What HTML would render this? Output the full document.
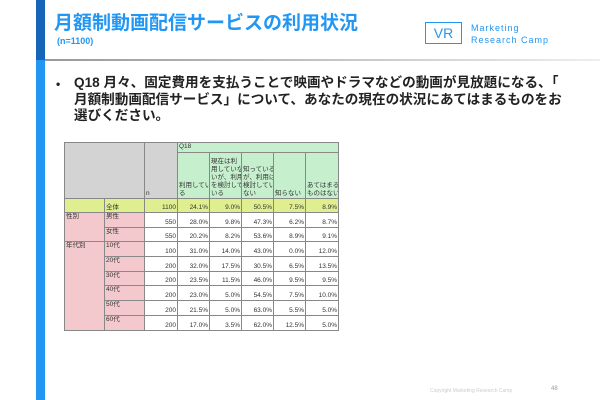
<!DOCTYPE html>
<html><head><meta charset="utf-8"><style>
body{margin:0;width:600px;height:400px;background:#fff;position:relative;overflow:hidden;font-family:"Liberation Sans","Noto Sans CJK JP",sans-serif}
.a{position:absolute}
table{border-collapse:collapse;font-size:6.5px;color:#333;table-layout:fixed;width:274px}
td{border:1px solid #888;padding:0 1px;box-sizing:border-box;text-align:right;vertical-align:bottom;white-space:nowrap;overflow:hidden;line-height:8px}
.g{background:#d3d3d3}.q{background:#c6efce;text-align:left}.y{background:#dfef8f}.p{background:#f3c9cd;text-align:left;vertical-align:top}
</style></head><body>
<div class="a" style="left:36px;top:0;width:9px;height:60px;background:#1565b8"></div>
<div class="a" style="left:36px;top:60px;width:9px;height:340px;background:#2196f3"></div>
<div class="a" style="left:45px;top:59px;width:555px;height:2px;background:linear-gradient(90deg,#999,#eee)"></div>
<div class="a" style="left:54px;top:8px;font-size:19px;font-weight:bold;color:#2196f3">月額制動画配信サービスの利用状況</div>
<div class="a" style="left:57px;top:36px;font-size:9px;font-weight:bold;color:#2196f3">(n=1100)</div>
<div class="a" style="left:425px;top:22px;width:35px;height:20px;border:1px solid #2196f3;font-size:14px;color:#2196f3;line-height:20px;text-align:center">VR</div>
<div class="a" style="left:471px;top:22px;font-size:9px;color:#2196f3;letter-spacing:1px;line-height:12px">Marketing<br>Research Camp</div>
<div class="a" style="left:56px;top:76px;font-size:12px;font-weight:bold;color:#222;line-height:16px">•</div>
<div class="a" style="left:74px;top:75px;font-size:13.6px;font-weight:bold;color:#222;line-height:16.5px;white-space:nowrap">Q18 月々、固定費用を支払うことで映画やドラマなどの動画が見放題になる、「<br>月額制動画配信サービス」について、あなたの現在の状況にあてはまるものをお<br>選びください。</div>
<table class="a" style="left:64px;top:142px">
<colgroup><col style="width:40px"><col style="width:40px"><col style="width:33px"><col style="width:32px"><col style="width:32px"><col style="width:32px"><col style="width:32px"><col style="width:33px"></colgroup>
<tr style="height:10px"><td class="g" colspan="2" rowspan="2"></td><td class="g" rowspan="2" style="text-align:left">n</td><td class="q" colspan="5" style="vertical-align:top">Q18</td></tr>
<tr style="height:46px"><td class="q">利用してい<br>る</td><td class="q">現在は利<br>用していな<br>いが、利用<br>を検討して<br>いる</td><td class="q">知っている<br>が、利用は<br>検討してい<br>ない</td><td class="q">知らない</td><td class="q">あてはまる<br>ものはない</td></tr>
<tr style="height:14px"><td class="y"></td><td class="y" style="text-align:left">全体</td><td class="y">1100</td><td class="y">24.1%</td><td class="y">9.0%</td><td class="y">50.5%</td><td class="y">7.5%</td><td class="y">8.9%</td></tr>
<tr style="height:15px"><td class="p" rowspan="2">性別</td><td class="p">男性</td><td>550</td><td>28.0%</td><td>9.8%</td><td>47.3%</td><td>6.2%</td><td>8.7%</td></tr>
<tr style="height:14px"><td class="p">女性</td><td>550</td><td>20.2%</td><td>8.2%</td><td>53.6%</td><td>8.9%</td><td>9.1%</td></tr>
<tr style="height:15px"><td class="p" rowspan="6">年代別</td><td class="p">10代</td><td>100</td><td>31.0%</td><td>14.0%</td><td>43.0%</td><td>0.0%</td><td>12.0%</td></tr>
<tr style="height:15px"><td class="p">20代</td><td>200</td><td>32.0%</td><td>17.5%</td><td>30.5%</td><td>6.5%</td><td>13.5%</td></tr>
<tr style="height:14px"><td class="p">30代</td><td>200</td><td>23.5%</td><td>11.5%</td><td>46.0%</td><td>9.5%</td><td>9.5%</td></tr>
<tr style="height:15px"><td class="p">40代</td><td>200</td><td>23.0%</td><td>5.0%</td><td>54.5%</td><td>7.5%</td><td>10.0%</td></tr>
<tr style="height:15px"><td class="p">50代</td><td>200</td><td>21.5%</td><td>5.0%</td><td>63.0%</td><td>5.5%</td><td>5.0%</td></tr>
<tr style="height:15px"><td class="p">60代</td><td>200</td><td>17.0%</td><td>3.5%</td><td>62.0%</td><td>12.5%</td><td>5.0%</td></tr>
</table>
<div class="a" style="left:430px;top:388px;font-size:5px;color:#ccc">Copyright Marketing Research Camp</div>
<div class="a" style="left:551px;top:386px;font-size:6px;color:#999">48</div>
</body></html>
